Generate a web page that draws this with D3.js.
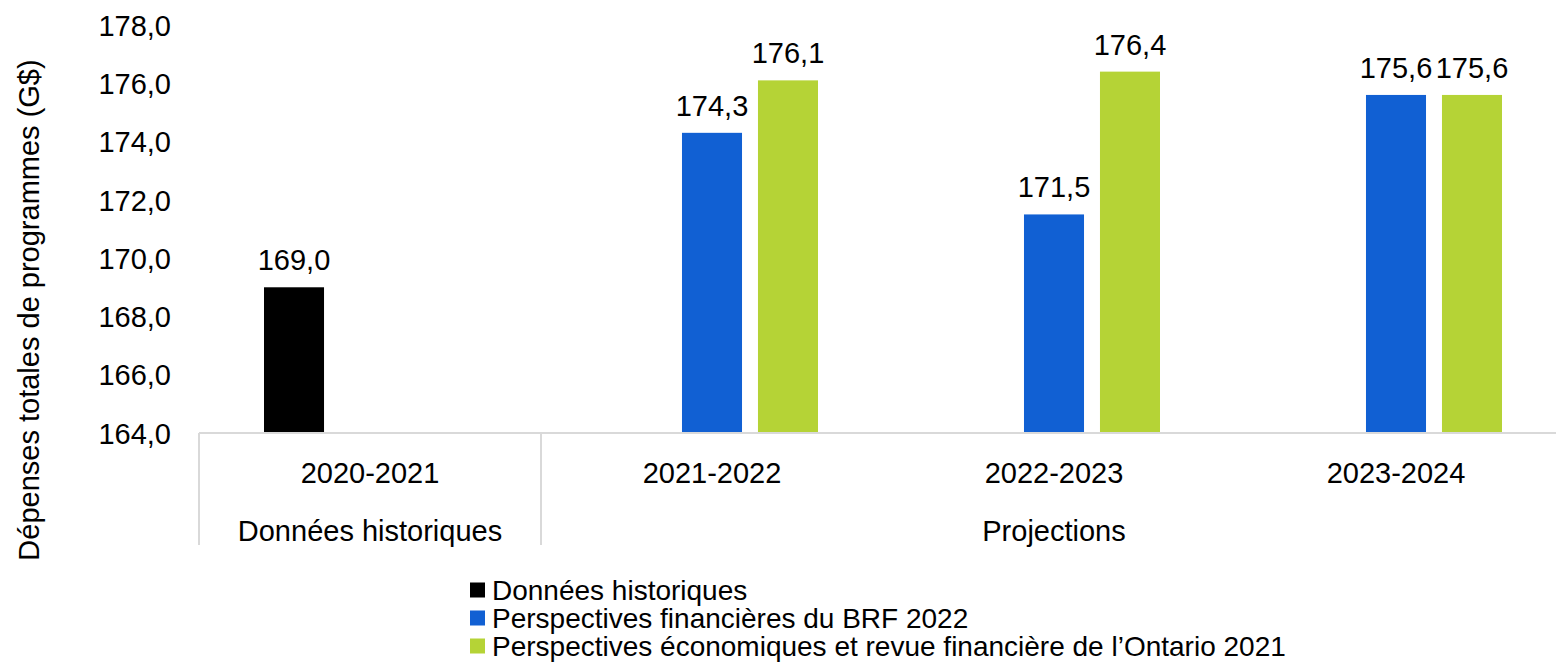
<!DOCTYPE html>
<html>
<head>
<meta charset="utf-8">
<script src="https://cdn.jsdelivr.net/npm/d3@7"></script>
<style>
  body { margin: 0; background: #fff; overflow: hidden; }
  svg text { font-family: "Liberation Sans", Arial, sans-serif; fill: #000; }
</style>
</head>
<body>
<div id="holder"></div>
<script>
const categories = ['2020-2021', '2021-2022', '2022-2023', '2023-2024'];
const groups = [
    { label: 'Données historiques', from: 0, to: 0 },
    { label: 'Projections', from: 1, to: 3 }
];
const seriesNames = [
    'Données historiques',
    'Perspectives financières du BRF 2022',
    'Perspectives économiques et revue financière de l\u2019Ontario 2021'
];
const historique = [169.0, null, null, null];
const brf2022 = [null, 174.3, 171.5, 175.6];
const perspOntario = [null, 176.1, 176.4, 175.6];
const yTicks = [164, 166, 168, 170, 172, 174, 176, 178];
const colors = ['#000000', '#1160d3', '#b5d336'];

const w = 1556;
const h = 664;
const plotLeft = 199;
const plotRight = 1567; // chart area runs a bit past the picture edge
const plotTop = 25;
const plotBottom = 433;
const fs = '29px';

const fmt = v => v.toFixed(1).replace('.', ',');

const svg = d3.select('#holder')
    .append('svg')
    .attr('width', w)
    .attr('height', h);

const xScale = d3.scaleBand()
    .domain(categories)
    .range([plotLeft, plotRight])
    .padding(0);

const bw = xScale.bandwidth();
const inner = d3.scaleBand()
    .domain(seriesNames)
    .range([(bw - 212) / 2, (bw + 212) / 2])
    .paddingInner(0.21);

const yScale = d3.scaleLinear()
    .domain([164, 178])
    .range([plotBottom, plotTop]);

// y axis labels only, no line
const yAxis = d3.axisLeft(yScale)
    .tickValues(yTicks)
    .tickFormat(fmt)
    .tickSize(0)
    .tickPadding(0);

svg.append('g')
    .attr('transform', 'translate(171,0)')
    .call(yAxis)
    .call(g => g.select('.domain').remove())
    .selectAll('text')
    .attr('fill', '#000')
    .style('font-size', fs)
    .attr('dy', '0.35em');

// bars
const allSeries = [historique, brf2022, perspOntario];
const rows = [];
allSeries.forEach((vals, s) => {
    vals.forEach((v, i) => {
        if (v !== null) rows.push({ cat: categories[i], s: s, v: v });
    });
});

svg.selectAll('rect.bar')
    .data(rows)
    .enter()
    .append('rect')
    .attr('class', 'bar')
    .attr('x', d => xScale(d.cat) + inner(seriesNames[d.s]))
    .attr('y', d => yScale(d.v))
    .attr('width', inner.bandwidth())
    .attr('height', d => plotBottom - yScale(d.v))
    .attr('fill', d => colors[d.s]);

svg.selectAll('text.val')
    .data(rows)
    .enter()
    .append('text')
    .attr('class', 'val')
    .attr('x', d => xScale(d.cat) + inner(seriesNames[d.s]) + inner.bandwidth() / 2)
    .attr('y', d => yScale(d.v) - 17)
    .attr('text-anchor', 'middle')
    .style('font-size', fs)
    .text(d => fmt(d.v));

// x axis line
svg.append('line')
    .attr('x1', plotLeft).attr('x2', plotRight)
    .attr('y1', plotBottom).attr('y2', plotBottom)
    .attr('stroke', '#d9d9d9')
    .attr('stroke-width', 2);

// group separators
const sepX = [xScale(categories[0]), xScale(categories[1])];
svg.selectAll('line.sep')
    .data(sepX)
    .enter()
    .append('line')
    .attr('class', 'sep')
    .attr('x1', d => d).attr('x2', d => d)
    .attr('y1', plotBottom).attr('y2', 545)
    .attr('stroke', '#d9d9d9')
    .attr('stroke-width', 2);

svg.selectAll('text.cat')
    .data(categories)
    .enter()
    .append('text')
    .attr('class', 'cat')
    .attr('x', d => xScale(d) + bw / 2)
    .attr('y', 483)
    .attr('text-anchor', 'middle')
    .style('font-size', fs)
    .text(d => d);

svg.selectAll('text.grp')
    .data(groups)
    .enter()
    .append('text')
    .attr('class', 'grp')
    .attr('x', d => (xScale(categories[d.from]) + xScale(categories[d.to]) + bw) / 2)
    .attr('y', 541)
    .attr('text-anchor', 'middle')
    .style('font-size', fs)
    .text(d => d.label);

// y title
svg.append('text')
    .attr('transform', 'translate(39,310) rotate(-90)')
    .attr('text-anchor', 'middle')
    .style('font-size', fs)
    .text('Dépenses totales de programmes (G$)');

// legend
const legend = svg.append('g')
    .attr('transform', 'translate(470,590)');

const item = legend.selectAll('g')
    .data(seriesNames)
    .enter()
    .append('g')
    .attr('transform', (_, i) => 'translate(0,' + i * 28 + ')');

item.append('rect')
    .attr('x', 0).attr('y', -7.5)
    .attr('width', 15).attr('height', 15)
    .attr('fill', (_, i) => colors[i]);

item.append('text')
    .attr('x', 22)
    .attr('y', 0)
    .attr('dy', '0.35em')
    .style('font-size', '28px')
    .text(d => d);
</script>
</body>
</html>
